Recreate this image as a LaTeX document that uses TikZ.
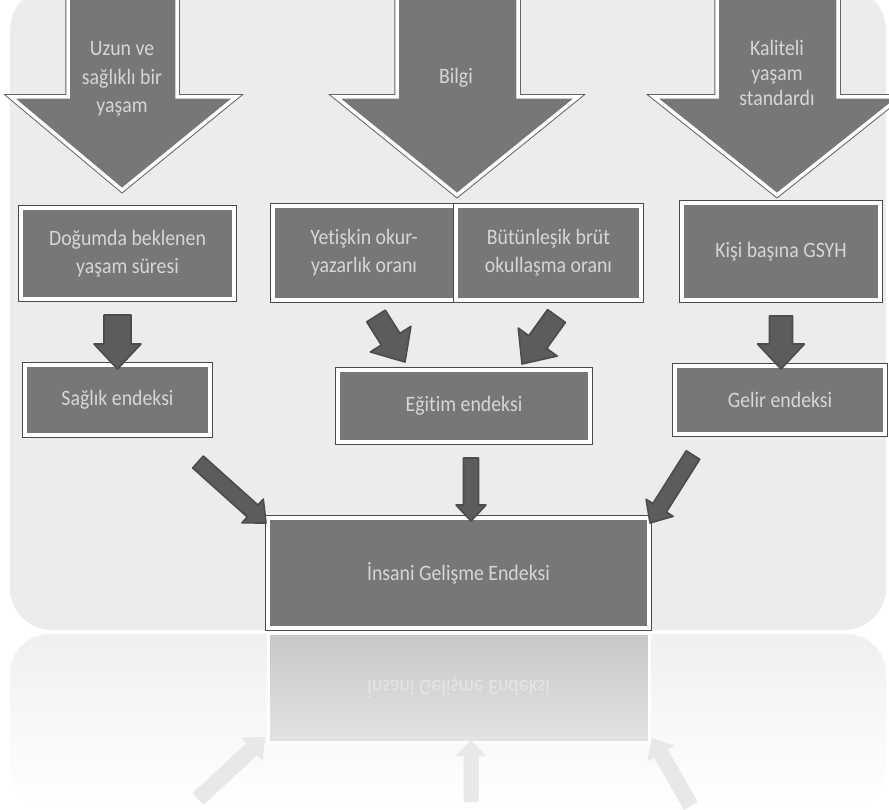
\documentclass[tikz,border=0pt]{standalone}
\usepackage{fontspec}
\setmainfont{Carlito}[FakeStretch=0.9, Ligatures=NoCommon]
\usetikzlibrary{calc}
\definecolor{bg}{HTML}{ECECEC}
\definecolor{boxgray}{HTML}{777777}
\definecolor{txt}{HTML}{D6D6D6}
\definecolor{edge}{HTML}{4A4A4A}
\definecolor{arrowdark}{HTML}{5C5C5C}
\definecolor{reflarr}{HTML}{E8E8E8}
\newcommand{\blockarr}[6][smallarrow]{%
  \coordinate (ba-c) at ($(#3)!#6!(#2)$);
  \draw[#1] ($(#2)!#4!90:(#3)$) -- ($(ba-c)!#4!-90:(#2)$) -- ($(ba-c)!#5!-90:(#2)$) -- (#3)
    -- ($(ba-c)!#5!90:(#2)$) -- ($(ba-c)!#4!90:(#2)$) -- ($(#2)!#4!-90:(#3)$) -- cycle;
}
\begin{document}
\begin{tikzpicture}[x=1pt,y=-1pt,
  box/.style={fill=boxgray, draw=white, line width=4pt, preaction={draw=edge, line width=6pt},
    text=txt, font=\fontsize{22}{28}\selectfont, align=center, inner sep=0pt, outer sep=0pt},
  atext/.style={text=txt, align=center, inner sep=0pt},
  bigarrow/.style={fill=boxgray, draw=white, line width=3.5pt, line join=miter,
    preaction={draw=edge!85, line width=5.5pt, line join=miter}},
  smallarrow/.style={fill=arrowdark, draw=black!70, line width=1.6pt, line join=round},
  reflarrow/.style={fill=reflarr, draw=none},
]
\useasboundingbox (0,0) rectangle (889,810);
% backgrounds
\fill[bg, rounded corners=42pt] (10,-12) rectangle (886,630);
\shade[top color=black!6, bottom color=white, rounded corners=40pt] (10,634) rectangle (886,806);

% big arrows
\draw[bigarrow] (68,-12) -- (68,97) -- (11,97) -- (122,190) -- (236,97) -- (177,97) -- (177,-12) -- cycle;
\draw[bigarrow] (397,-12) -- (397,97) -- (336,97) -- (457,195) -- (578,97) -- (518,97) -- (518,-12) -- cycle;
\draw[bigarrow] (717,-12) -- (717,97) -- (654,97) -- (777,195) -- (900,97) -- (838,97) -- (838,-12) -- cycle;
\node[atext, font=\fontsize{22}{28.5}\selectfont] (a1) at (122,79) {Uzun ve\\sağlıklı bir\\yaşam};
\node[atext, font=\fontsize{22}{28}\selectfont] (a2) at (456,78) {Bilgi};
\node[atext, font=\fontsize{22}{25}\selectfont] (a3) at (777,73) {Kaliteli\\yaşam\\standardı};

% boxes
\node[box, minimum width=213pt, minimum height=91pt] (dog) at (127.5,253.5) {Doğumda beklenen\\yaşam süresi};
\node[box, minimum width=182pt, minimum height=94pt] (yet) at (364,253) {Yetişkin okur-\\yazarlık oranı};
\node[box, minimum width=185pt, minimum height=94pt] (but) at (548.5,253) {Bütünleşik brüt\\okullaşma oranı};
\node[box, minimum width=198pt, minimum height=97pt] (kisi) at (781,251.5) {Kişi başına GSYH};
\node[box, minimum width=185pt, minimum height=70pt] (sag) at (117.5,400) {Sağlık endeksi};
\node[box, minimum width=252pt, minimum height=72pt] (egi) at (464,406) {Eğitim endeksi};
\node[box, minimum width=210pt, minimum height=68pt] (gel) at (780,400) {Gelir endeksi};
\node[box, minimum width=381pt, minimum height=110pt] (ige) at (458.5,573) {İnsani Gelişme Endeksi};

% small block arrows
\coordinate (s1) at ($(dog.south -| sag.north)+(0,16)$);
\coordinate (e1) at ($(sag.north)+(0,4)$);
\blockarr{s1}{e1}{13.5pt}{23.5pt}{25pt}
\coordinate (s2) at ($(yet.south)+(12,16)$);
\coordinate (e2) at ($(egi.north west)+(67,-8)$);
\blockarr{s2}{e2}{11pt}{24pt}{27pt}
\coordinate (s3) at ($(but.south)+(8,16)$);
\coordinate (e3) at ($(egi.north east)+(-68,-6)$);
\blockarr{s3}{e3}{11pt}{24pt}{27pt}
\coordinate (s4) at ($(kisi.south)+(0,16)$);
\coordinate (e4) at ($(gel.north)+(1,3)$);
\blockarr{s4}{e4}{11.5pt}{23.5pt}{25pt}

\coordinate (s5) at (198,462);
\coordinate (e5) at ($(ige.north west)+(-2,5)$);
\blockarr{s5}{e5}{8pt}{16pt}{18pt}
\coordinate (s6) at ($(egi.south)+(7,16)$);
\coordinate (e6) at ($(ige.north)+(12.5,3)$);
\blockarr{s6}{e6}{7.5pt}{15pt}{16pt}
\coordinate (s7) at (693,455);
\coordinate (e7) at ($(ige.north east)+(1,5)$);
\blockarr{s7}{e7}{8pt}{16pt}{18pt}

% reflection
\shade[top color=black!22, bottom color=black!11] (268,633) rectangle (649,742);
\draw[white, line width=3pt] (268,633) rectangle (649,742);
\node[text=white!90!black, font=\fontsize{22}{28}\selectfont, inner sep=0pt] (refl) at (458.5,688) {\scalebox{1}[-1]{İnsani Gelişme Endeksi}};
\coordinate (r5s) at (198,799);
\coordinate (r5e) at (265,737);
\blockarr[reflarrow]{r5s}{r5e}{8pt}{16pt}{18pt}
\coordinate (r6s) at (471,802);
\coordinate (r6e) at (471,740);
\blockarr[reflarrow]{r6s}{r6e}{7.5pt}{15pt}{16pt}
\coordinate (r7s) at (691,806);
\coordinate (r7e) at (652,738);
\blockarr[reflarrow]{r7s}{r7e}{8pt}{16pt}{18pt}
\end{tikzpicture}
\end{document}
